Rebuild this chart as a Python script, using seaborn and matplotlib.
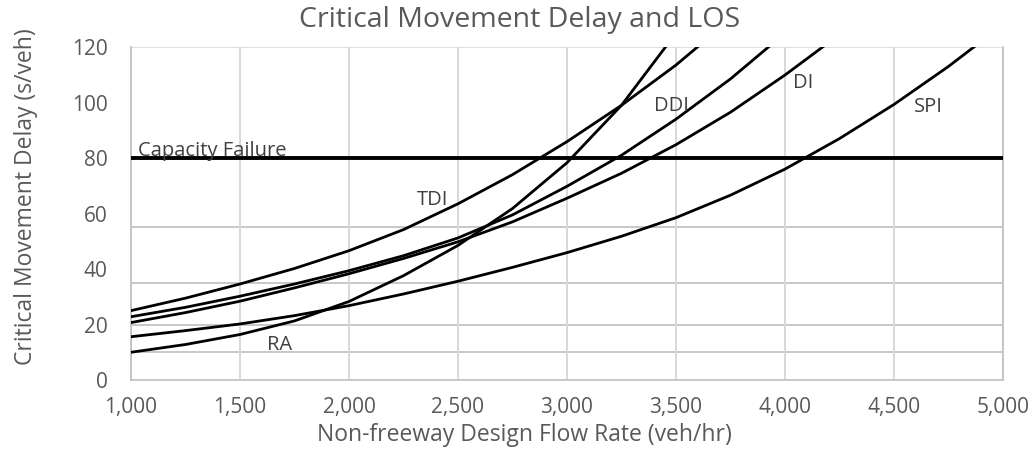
import pandas as pd
import matplotlib.pyplot as plt
import seaborn as sns
from matplotlib.ticker import FuncFormatter, MultipleLocator

# Data
flow = [1000, 1250, 1500, 1750, 2000, 2250, 2500, 2750, 3000, 3250, 3500, 3750, 4000, 4250, 4500, 4750, 5000]

tdi = [25.0, 29.5, 34.6, 40.2, 46.6, 54.2, 63.5, 74.0, 85.9, 99.0, 113.5, 130.0]
ra = [10.0, 12.8, 16.4, 21.3, 28.3, 37.6, 48.5, 61.8, 78.3, 99.0, 125.0]
ddi = [22.8, 26.2, 30.2, 34.6, 39.4, 44.8, 51.2, 59.5, 69.8, 81.0, 94.0, 108.5, 125.0]
di = [20.7, 24.3, 28.4, 33.2, 38.3, 43.8, 49.8, 57.0, 65.5, 74.5, 84.8, 96.5, 109.9, 124.5]
spi = [15.6, 17.8, 20.2, 23.2, 26.8, 31.0, 35.6, 40.6, 45.9, 51.8, 58.5, 66.6, 76.0, 87.0, 99.3, 113.0, 128.0]

series = {"TDI": tdi, "RA": ra, "DDI": ddi, "DI": di, "SPI": spi}

# LOS thresholds shown as gridlines, capacity failure line
los_thresholds = [10, 20, 35, 55]
capacity = 80

# label positions (flow, delay) for the curve names
label_pos = {
    "TDI": (2385, 65),
    "RA": (1683, 12.6),
    "DDI": (3480, 98.7),
    "DI": (4083, 107),
    "SPI": (4656, 98.5),
}

rows = []
for name, vals in series.items():
    for f, d in zip(flow, vals):
        rows.append({"flow": f, "delay": d, "type": name})
df = pd.DataFrame(rows)

sns.set_style("white")
plt.rcParams["font.family"] = ["Open Sans", "DejaVu Sans"]
grey = "#595959"

fig = plt.figure(figsize=(10.34, 4.55), dpi=100)
ax = fig.add_axes([0.1267, 0.1648, 0.8433, 0.7319])

ax.set_xlim(1000, 5000)
ax.set_ylim(0, 120)

# gridlines
ax.xaxis.set_major_locator(MultipleLocator(500))
ax.yaxis.set_major_locator(MultipleLocator(20))
ax.grid(axis="x", color="#d9d9d9", linewidth=1.4, zorder=0)
for t in los_thresholds:
    ax.axhline(t, color="#bfbfbf", linewidth=1.2, zorder=0)
ax.axhline(120, color="#d9d9d9", linewidth=1.2, zorder=0)

sns.lineplot(data=df, x="flow", y="delay", hue="type",
             palette=["black"] * len(series), linewidth=2.0,
             legend=False, ax=ax, zorder=3)

ax.axhline(capacity, color="black", linewidth=2.8, zorder=4)
ax.text(1030, capacity + 0.8, "Capacity Failure", fontsize=14.5, color="#404040",
        ha="left", va="baseline", zorder=5)

for name, (x, y) in label_pos.items():
    ax.text(x, y, name, fontsize=14.5, color="#404040", ha="center", va="center", zorder=5)

for side in ["left", "bottom", "right"]:
    ax.spines[side].set_color("#bfbfbf")
    ax.spines[side].set_linewidth(1.2)
ax.spines["top"].set_visible(False)

ax.xaxis.set_major_formatter(FuncFormatter(lambda v, p: f"{int(v):,}"))
ax.tick_params(axis="both", length=0, labelsize=15, colors=grey)
ax.tick_params(axis="x", pad=12)
ax.tick_params(axis="y", pad=17)

fig.text(0.5025, 0.956, "Critical Movement Delay and LOS", fontsize=20.5, color=grey,
         ha="center", va="center")
ax.set_xlabel("Non-freeway Design Flow Rate (veh/hr)", fontsize=16.5, color=grey)
ax.set_ylabel("Critical Movement Delay (s/veh)", fontsize=16.5, color=grey)
ax.xaxis.set_label_coords(0.4507, -0.128)
ax.yaxis.set_label_coords(-0.107, 0.55)

plt.savefig("out.png", dpi=100)
